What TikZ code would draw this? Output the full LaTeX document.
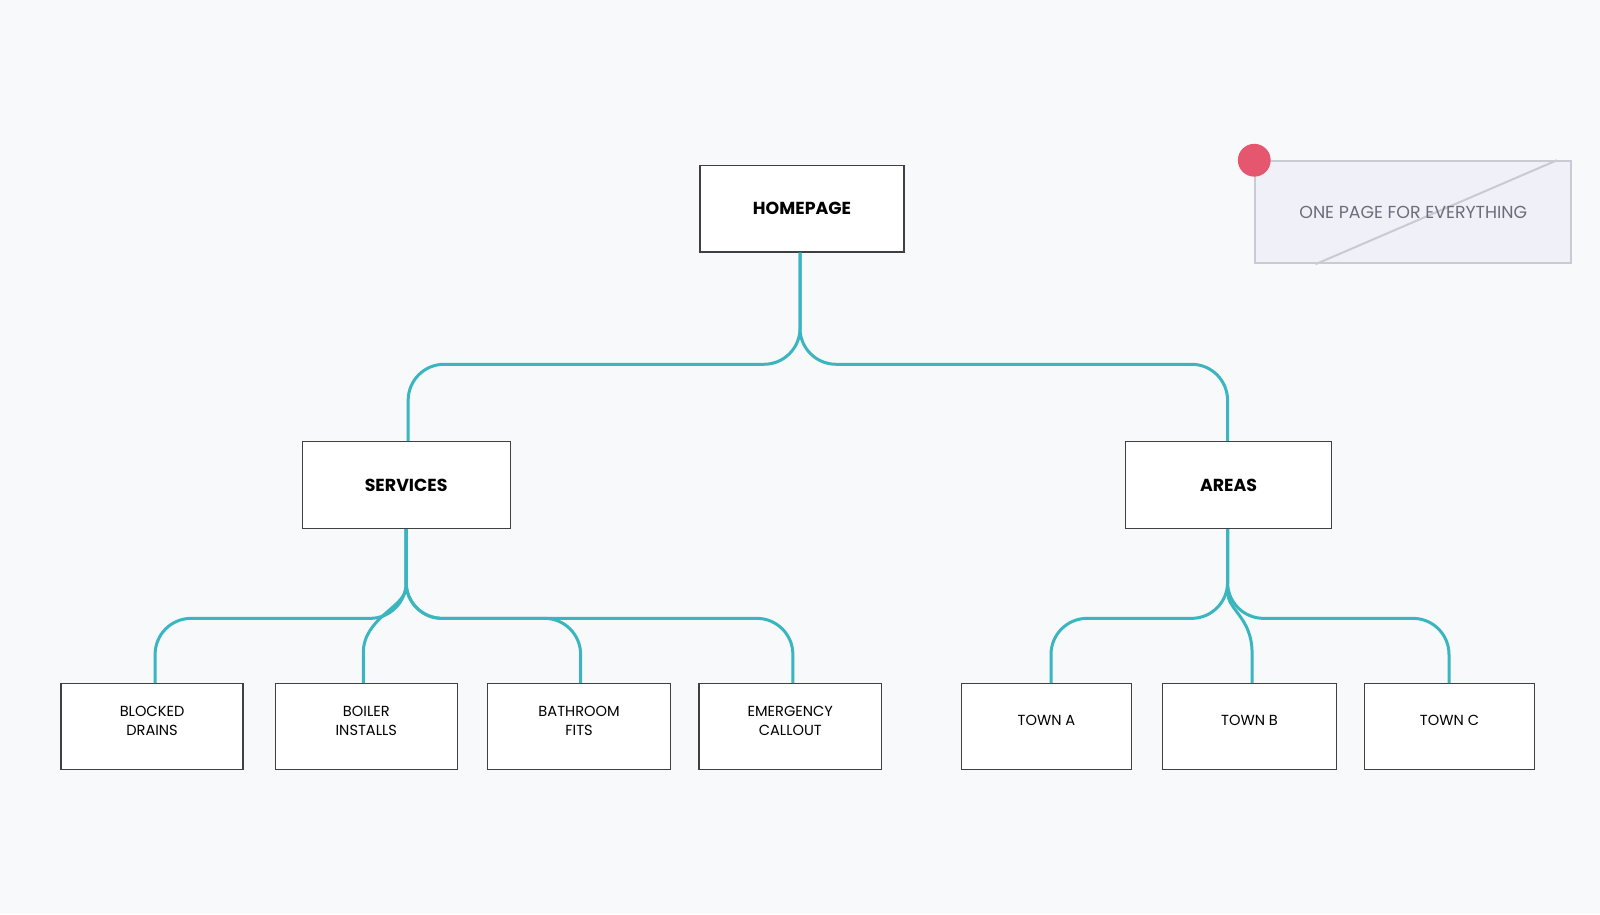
\documentclass[tikz,border=0pt]{standalone}
\usepackage{fontspec}
\setmainfont{Poppins}
\usetikzlibrary{positioning,calc}
\definecolor{branchcol}{HTML}{3BB5C0}
\definecolor{bgcol}{HTML}{F8F9FB}
\definecolor{notefill}{HTML}{F0F1F8}
\definecolor{noteline}{HTML}{C8CAD4}
\definecolor{notetext}{HTML}{6B6E7A}
\definecolor{dotred}{HTML}{E5566F}
\tikzset{
    page/.style = {draw=black!75, line width=.6pt, fill=white, align=center,
        inner sep=0pt, font=\fontsize{7.3}{9.5}\selectfont},
    mainpage/.style = {page, font=\fontsize{8.7}{10}\selectfont\bfseries},
    branch/.style = {draw=branchcol, line width=1.5pt, rounded corners=18pt}
}

\begin{document}
\begin{tikzpicture}[x=0.5102pt, y=-0.5102pt]
    \fill[bgcol] (0,0) rectangle (1568,896);
    \useasboundingbox (0,0) rectangle (1568,896);

    \node[mainpage, minimum width=102pt, minimum height=43.4pt] (home) at (786,204.5) {HOMEPAGE};
    \node[mainpage, minimum width=104pt, minimum height=43.4pt] (services) at (398,475.5) {SERVICES};
    \node[mainpage, minimum width=103pt, minimum height=43.4pt] (areas) at (1204,475.5) {AREAS};

    \foreach \name/\x/\w/\Label in {%
        drains/149/91/{BLOCKED\\DRAINS},
        boiler/359/91/{BOILER\\INSTALLS},
        bathroom/567.5/91.3/{BATHROOM\\FITS},
        callout/774.5/91.3/{EMERGENCY\\CALLOUT},
        towna/1025.5/85.2/{TOWN A},
        townb/1224.5/87.2/{TOWN B},
        townc/1420.5/85.2/{TOWN C}%
        }
        \node[page, minimum width=\w pt, minimum height=42.9pt, text depth=6pt] (\name) at (\x,712) {\Label};

    % connectors
    \foreach \child/\cx in {services/400, areas/1203}
        \draw[branch] (home.south -| 784,0) -- (784,357) -- (\cx,357) -- (\child.north -| \cx,0);
    \foreach \child/\cx in {drains/152, bathroom/569, callout/777}
        \draw[branch] (services.south) -- (398,606) -- (\cx,606) -- (\child.north -| \cx,0);
    \draw[branch, sharp corners] (services.south) -- (398,575) .. controls (398,595) and (356,605) .. (356,640) -- (boiler.north -| 356,0);
    \foreach \child/\cx in {towna/1030, townc/1420}
        \draw[branch] (areas.south -| 1203,0) -- (1203,606) -- (\cx,606) -- (\child.north -| \cx,0);
    \draw[branch, sharp corners] (areas.south -| 1203,0) -- (1203,580) .. controls (1203,598) and (1227,605) .. (1227,640) -- (townb.north -| 1227,0);

    % note
    \node[draw=noteline, line width=1pt, fill=notefill, minimum width=158pt, minimum height=51pt,
        inner sep=0pt] (note) at (1385,208) {};
    \draw[noteline, line width=1pt] ($(note.south west)+(60,0)$) -- ($(note.north east)+(-15,0)$);
    \node[text=notetext, font=\fontsize{8.7}{10}\selectfont] (notelabel) at (note.center) {ONE PAGE FOR EVERYTHING};
    \fill[dotred] (note.north west) circle (8.2pt);
\end{tikzpicture}
\end{document}
